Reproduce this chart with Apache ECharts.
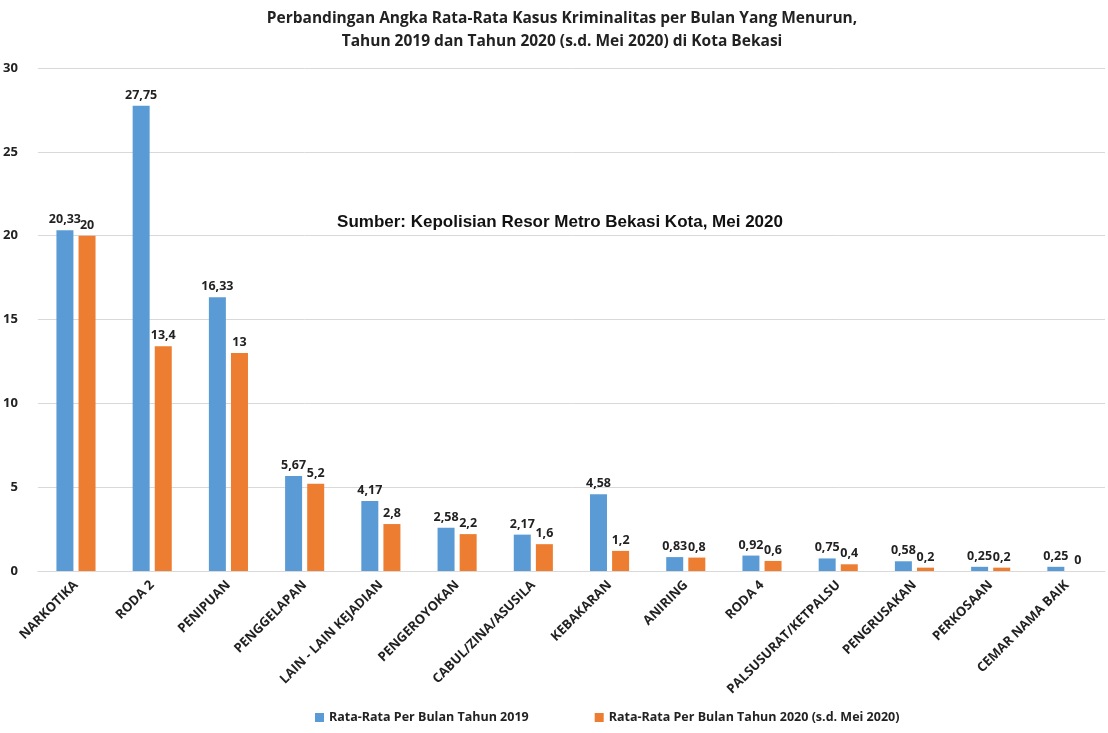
<!DOCTYPE html>
<html>
<head>
<meta charset="utf-8">
<script src="https://cdn.jsdelivr.net/npm/echarts@6/dist/echarts.min.js"></script>
<style>
	html, body { margin: 0; padding: 0; background: #fff; }
	#chart { width: 1108px; height: 733px; }
</style>
</head>
<body>
<div id="chart"></div>
<script>
// kategori kasus
var categories = [ 'NARKOTIKA', 'RODA 2', 'PENIPUAN', 'PENGGELAPAN',
		'LAIN - LAIN KEJADIAN', 'PENGEROYOKAN', 'CABUL/ZINA/ASUSILA',
		'KEBAKARAN', 'ANIRING', 'RODA 4', 'PALSUSURAT/KETPALSU',
		'PENGRUSAKAN', 'PERKOSAAN', 'CEMAR NAMA BAIK' ];
var seriesNames = [ 'Rata-Rata Per Bulan Tahun 2019',
		'Rata-Rata Per Bulan Tahun 2020 (s.d. Mei 2020)' ];
var values2019 = [ 20.33, 27.75, 16.33, 5.67, 4.17, 2.58, 2.17, 4.58, 0.83,
		0.92, 0.75, 0.58, 0.25, 0.25 ];
var values2020 = [ 20, 13.4, 13, 5.2, 2.8, 2.2, 1.6, 1.2, 0.8, 0.6, 0.4, 0.2,
		0.2, 0 ];
var yTicks = [ 0, 5, 10, 15, 20, 25, 30 ];

var chart = echarts.init(document.getElementById('chart'));

// label angka pakai koma desimal
function commaLabel(p) {
	return String(p.value).replace('.', ',');
}

var labelStyle = {
	show : true,
	position : 'top',
	distance : 4,
	color : '#222',
	fontWeight : 'bold',
	fontSize : 12.5,
	fontFamily : 'Open Sans',
	formatter : commaLabel
};

var option = {
	backgroundColor : '#fff',
	animation : false,
	title : [ {
		text : 'Perbandingan Angka Rata-Rata Kasus Kriminalitas per Bulan Yang Menurun,\nTahun 2019 dan Tahun 2020 (s.d. Mei 2020) di Kota Bekasi',
		left : 557,
		top : 2,
		textAlign : 'center',
		textStyle : {
			fontFamily : 'Open Sans',
			fontWeight : 'bold',
			fontSize : 15.5,
			lineHeight : 23,
			color : '#222'
		}
	}, {
		text : 'Sumber: Kepolisian Resor Metro Bekasi Kota, Mei 2020',
		left : 555,
		top : 209,
		textAlign : 'center',
		textStyle : {
			fontFamily : 'Liberation Sans',
			fontWeight : 'bold',
			fontSize : 17,
			color : '#111'
		}
	} ],
	legend : {
		bottom : 4,
		left : 310,
		itemGap : 66,
		itemWidth : 9,
		itemHeight : 9,
		icon : 'rect',
		data : seriesNames,
		textStyle : {
			fontFamily : 'Open Sans',
			fontWeight : 'bold',
			fontSize : 12.5,
			color : '#222'
		}
	},
	grid : {
		left : 37,
		right : 3,
		top : 68,
		bottom : 162
	},
	xAxis : {
		type : 'category',
		data : categories,
		axisTick : {
			show : false
		},
		axisLine : {
			lineStyle : {
				color : '#d9d9d9'
			}
		},
		axisLabel : {
			rotate : 45,
			interval : 0,
			margin : 12,
			color : '#222',
			fontFamily : 'Open Sans',
			fontWeight : 'bold',
			fontSize : 13
		}
	},
	yAxis : {
		type : 'value',
		min : yTicks[0],
		max : yTicks[yTicks.length - 1],
		interval : 5,
		axisLine : {
			show : false
		},
		axisTick : {
			show : false
		},
		axisLabel : {
			margin : 20,
			color : '#222',
			fontFamily : 'Open Sans',
			fontWeight : 'bold',
			fontSize : 13
		},
		splitLine : {
			lineStyle : {
				color : '#d9d9d9'
			}
		}
	},
	series : [ {
		name : seriesNames[0],
		type : 'bar',
		data : values2019,
		barWidth : 17,
		barGap : '30%',
		itemStyle : {
			color : '#5b9bd5'
		},
		label : labelStyle
	}, {
		name : seriesNames[1],
		type : 'bar',
		data : values2020,
		barWidth : 17,
		itemStyle : {
			color : '#ed7d31'
		},
		label : labelStyle
	} ]
};

chart.setOption(option);
</script>
</body>
</html>
